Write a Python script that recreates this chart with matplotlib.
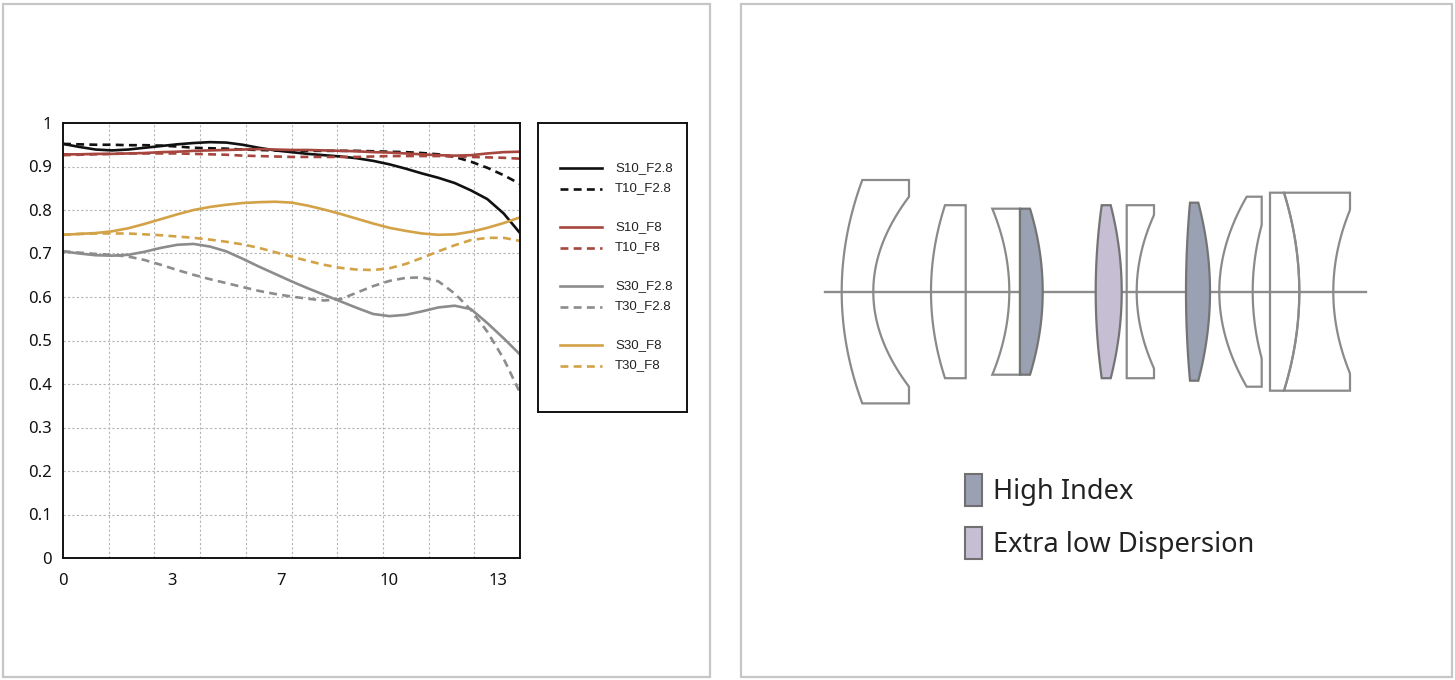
import numpy as np
import matplotlib
matplotlib.use('Agg')
from matplotlib import pyplot as plt
from matplotlib.patches import Polygon, Rectangle

W, H = 1455, 680

# MTF data, field position 0..14 in steps of 0.5
field = np.arange(0, 14.01, 0.5)
s10_f28 = [0.952, 0.945, 0.939, 0.937, 0.939, 0.943, 0.947, 0.951, 0.954, 0.956,
           0.955, 0.950, 0.943, 0.937, 0.933, 0.929, 0.926, 0.923, 0.919, 0.913,
           0.905, 0.895, 0.884, 0.874, 0.862, 0.845, 0.825, 0.792, 0.747]
t10_f28 = [0.952, 0.951, 0.950, 0.950, 0.949, 0.949, 0.948, 0.946, 0.943, 0.942,
           0.941, 0.939, 0.938, 0.937, 0.936, 0.936, 0.936, 0.936, 0.936, 0.935,
           0.934, 0.933, 0.931, 0.928, 0.922, 0.911, 0.897, 0.880, 0.860]
s10_f8 = [0.928, 0.928, 0.929, 0.929, 0.930, 0.931, 0.933, 0.934, 0.936, 0.937,
          0.938, 0.939, 0.940, 0.939, 0.938, 0.938, 0.937, 0.936, 0.935, 0.933,
          0.932, 0.930, 0.928, 0.926, 0.925, 0.926, 0.930, 0.933, 0.934]
t10_f8 = [0.926, 0.927, 0.928, 0.929, 0.930, 0.930, 0.930, 0.930, 0.929, 0.928,
          0.927, 0.925, 0.924, 0.923, 0.922, 0.922, 0.922, 0.922, 0.922, 0.923,
          0.924, 0.924, 0.924, 0.924, 0.923, 0.922, 0.921, 0.920, 0.918]
s30_f28 = [0.705, 0.700, 0.696, 0.695, 0.697, 0.704, 0.713, 0.720, 0.722, 0.716,
           0.705, 0.688, 0.670, 0.653, 0.636, 0.620, 0.605, 0.590, 0.575, 0.561,
           0.556, 0.559, 0.567, 0.576, 0.580, 0.572, 0.540, 0.505, 0.468]
t30_f28 = [0.705, 0.702, 0.699, 0.697, 0.693, 0.685, 0.674, 0.662, 0.651, 0.641,
           0.632, 0.623, 0.614, 0.607, 0.601, 0.596, 0.592, 0.595, 0.610, 0.625,
           0.637, 0.644, 0.645, 0.636, 0.608, 0.570, 0.520, 0.458, 0.380]
s30_f8 = [0.743, 0.745, 0.747, 0.751, 0.758, 0.768, 0.779, 0.790, 0.800, 0.807,
          0.812, 0.816, 0.818, 0.819, 0.817, 0.810, 0.801, 0.791, 0.780, 0.769,
          0.759, 0.752, 0.746, 0.743, 0.744, 0.750, 0.759, 0.770, 0.783]
t30_f8 = [0.743, 0.745, 0.746, 0.746, 0.746, 0.744, 0.742, 0.739, 0.736, 0.732,
          0.727, 0.721, 0.713, 0.703, 0.693, 0.683, 0.674, 0.667, 0.663, 0.662,
          0.666, 0.676, 0.690, 0.705, 0.719, 0.731, 0.736, 0.736, 0.729]

series = [s10_f28, t10_f28, s10_f8, t10_f8, s30_f28, t30_f28, s30_f8, t30_f8]
labels = ['S10_F2.8', 'T10_F2.8', 'S10_F8', 'T10_F8',
          'S30_F2.8', 'T30_F2.8', 'S30_F8', 'T30_F8']
colors = ['#111111', '#111111', '#a6463e', '#a6463e',
          '#8c8c8c', '#8c8c8c', '#d3a247', '#d3a247']
dashed = [False, True] * 4

xtick_pos = [0, 10 / 3, 20 / 3, 10, 40 / 3]
xtick_labels = ['0', '3', '7', '10', '13']
ytick_pos = np.arange(0, 1.01, 0.1)
ytick_labels = ['0', '0.1', '0.2', '0.3', '0.4', '0.5', '0.6', '0.7', '0.8', '0.9', '1']

# lens diagram (pixel units of the right panel), one entry per element
axis_y = 291.7
lens_lc = [841.7, 931, 1009.3, 1020, 1095.7, 1126.7, 1186, 1219.3, 1270, 1299.3]
lens_le = [862.3, 945, 992.3, 1020, 1101.7, 1126.7, 1190, 1246.7, 1270, 1284]
lens_rc = [873.3, 965.7, 1020, 1042.7, 1121.7, 1136.7, 1210, 1252.7, 1299.3, 1333.3]
lens_re = [909, 965.7, 1020, 1030, 1110.7, 1154, 1198.3, 1261.7, 1284, 1350]
lens_rhs = [95, 86.5, 83, 83, 86.5, 76.7, 89, 66.7, 99, 81.7]
lens_h = [111.7, 86.5, 83, 83, 86.5, 86.5, 89, 95, 99, 99]
lens_kind = ['', '', '', 'hi', 'ed', '', 'hi', '', '', '']
kind_colors = {'hi': '#9aa1b3', 'ed': '#c6bed3'}
glass_labels = ['High Index', 'Extra low Dispersion']

fig = plt.figure(figsize=(W / 100, H / 100), dpi=100)

# background: panel frames and lens drawing in pixel coords
bg = fig.add_axes([0, 0, 1, 1], zorder=-1)
bg.set_xlim(0, W)
bg.set_ylim(H, 0)
bg.axis('off')
for x0, x1 in [(2.5, 710), (741, 1452)]:
    bg.add_patch(Rectangle((x0, 3.5), x1 - x0, 673, fill=False,
                           ec='#c6c6c6', lw=1.6))

bg.plot([825, 1366], [axis_y, axis_y], color='#8c8c8c', lw=1.7, zorder=1)


def surface(c, e, hs, yy):
    return np.where(np.abs(yy) <= hs, c + (e - c) * (yy / hs) ** 2, e)


for i in range(len(lens_h)):
    h = lens_h[i]
    yy = np.linspace(-h, h, 121)
    xl = surface(lens_lc[i], lens_le[i], h, yy)
    xr = surface(lens_rc[i], lens_re[i], lens_rhs[i], yy)
    pts = np.concatenate([np.column_stack([xl, axis_y + yy]),
                          np.column_stack([xr[::-1], axis_y + yy[::-1]])])
    kind = lens_kind[i]
    if kind:
        bg.add_patch(Polygon(pts, closed=True, fc=kind_colors[kind],
                             ec='#747474', lw=1.6, zorder=2))
    else:
        bg.add_patch(Polygon(pts, closed=True, fill=False,
                             ec='#8a8a8a', lw=1.6, zorder=2))

for j, (kind, lab) in enumerate(zip(['hi', 'ed'], glass_labels)):
    y0 = 474 + j * 52.7
    bg.add_patch(Rectangle((965, y0), 16.5, 32, fc=kind_colors[kind],
                           ec='#707070', lw=1.5))
    bg.text(993, y0 + 18, lab, fontsize=19.6, family='Noto Sans',
            color='#222222', va='center', ha='left')

# MTF chart
ax = fig.add_axes([63 / W, 1 - 558 / H, (520 - 63) / W, (558 - 123) / H])
for vals, lab, col, ds in zip(series, labels, colors, dashed):
    kw = dict(dashes=(3.0, 2.0)) if ds else {}
    ax.plot(field, vals, color=col, lw=1.9, label=lab, **kw)
ax.set_xlim(0, 14)
ax.set_ylim(0, 1)
ax.set_xticks(np.linspace(0, 14, 11), minor=True)
ax.set_yticks(ytick_pos)
ax.set_yticklabels(ytick_labels)
ax.set_xticks(xtick_pos)
ax.set_xticklabels(xtick_labels)
ax.grid(False)
ax.grid(True, which='minor', axis='x', color='#b4b4b4', lw=0.8, dashes=(2, 2))
ax.grid(True, which='major', axis='y', color='#b4b4b4', lw=0.8, dashes=(2, 2))
ax.tick_params(which='both', length=0)
ax.tick_params(axis='x', pad=11)
ax.tick_params(axis='y', pad=8)
for t in ax.get_xticklabels() + ax.get_yticklabels():
    t.set_fontfamily('Noto Sans')
    t.set_fontsize(12)
    t.set_color('#111111')
for sp in ax.spines.values():
    sp.set_linewidth(1.4)
    sp.set_color('#111111')

# legend box drawn by hand to keep the group gaps
lg = fig.add_axes([538 / W, 1 - 411.7 / H, 148.7 / W, 288.4 / H])
lg.set_xlim(538, 686.7)
lg.set_ylim(411.7, 123.3)
lg.set_xticks([])
lg.set_yticks([])
for sp in lg.spines.values():
    sp.set_linewidth(1.4)
    sp.set_color('#111111')
for k, (lab, col, ds) in enumerate(zip(labels, colors, dashed)):
    y = 168 + (k // 2) * 59 + (k % 2) * 20.5
    kw = dict(dashes=(3.0, 2.0)) if ds else {}
    lg.plot([560, 602], [y, y], color=col, lw=1.9, **kw)
    lg.text(615, y, lab, fontsize=9.5, family='Liberation Sans',
            color='#222222', va='center', ha='left')

fig.savefig('out.png', dpi=100)
